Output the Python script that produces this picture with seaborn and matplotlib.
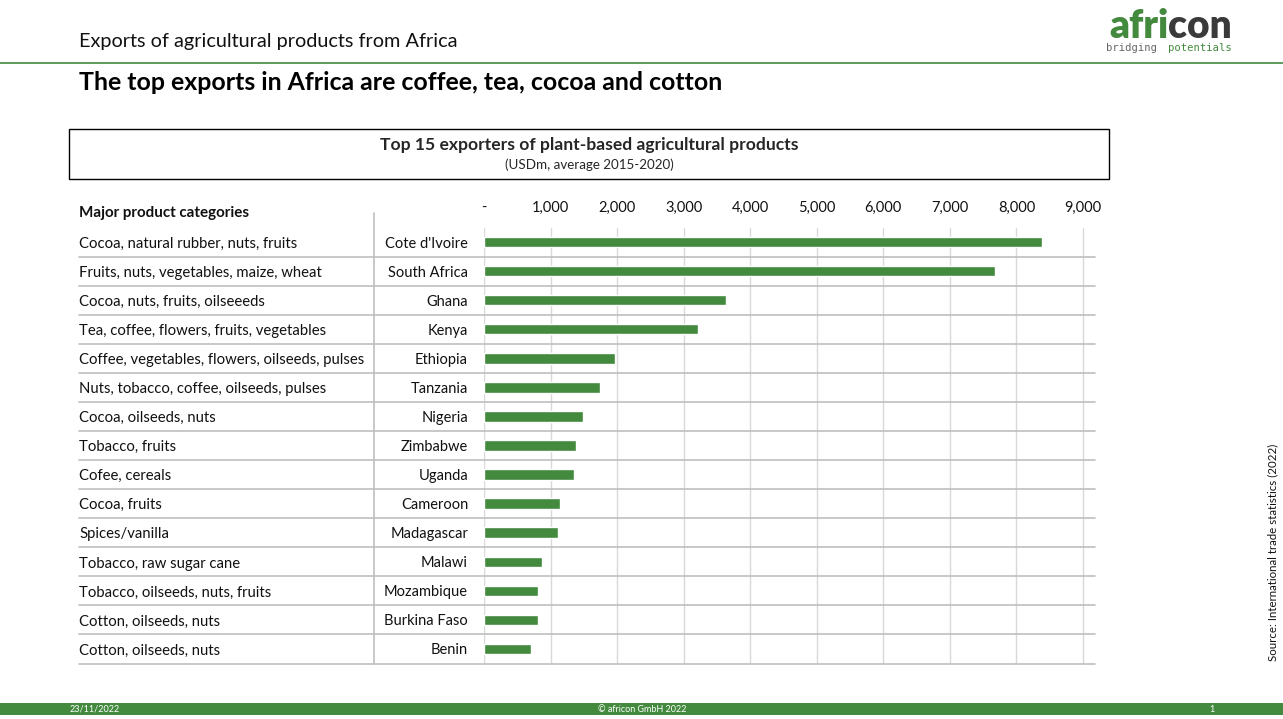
import numpy as np
import pandas as pd
import matplotlib
matplotlib.use('Agg')
import matplotlib.pyplot as plt
import seaborn as sns
from matplotlib.lines import Line2D
from matplotlib.patches import Rectangle

countries = ["Cote d'Ivoire", 'South Africa', 'Ghana', 'Kenya', 'Ethiopia', 'Tanzania',
             'Nigeria', 'Zimbabwe', 'Uganda', 'Cameroon', 'Madagascar', 'Malawi',
             'Mozambique', 'Burkina Faso', 'Benin']
exports = [8380, 7680, 3640, 3210, 1970, 1740, 1490, 1380, 1350, 1140, 1115, 870,
           815, 815, 705]
products = ['Cocoa, natural rubber, nuts, fruits',
            'Fruits, nuts, vegetables, maize, wheat',
            'Cocoa, nuts, fruits, oilseeeds',
            'Tea, coffee, flowers, fruits, vegetables',
            'Coffee, vegetables, flowers, oilseeds, pulses',
            'Nuts, tobacco, coffee, oilseeds, pulses',
            'Cocoa, oilseeds, nuts',
            'Tobacco, fruits',
            'Cofee, cereals',
            'Cocoa, fruits',
            'Spices/vanilla',
            'Tobacco, raw sugar cane',
            'Tobacco, oilseeds, nuts, fruits',
            'Cotton, oilseeds, nuts',
            'Cotton, oilseeds, nuts']
ticks = [0, 1000, 2000, 3000, 4000, 5000, 6000, 7000, 8000, 9000]
tick_labels = ['-', '1,000', '2,000', '3,000', '4,000', '5,000', '6,000', '7,000',
               '8,000', '9,000']

df = pd.DataFrame({'country': countries, 'value': exports, 'products': products})

green = '#438A3E'
W, H = 1283, 719

sns.set_style('white')
plt.rcParams['font.family'] = ['Lato', 'DejaVu Sans']

fig = plt.figure(figsize=(W / 100, H / 100), dpi=100)

def fx(px):
    return px / W

def fy(py):
    return 1 - py / H

# axes: x from 484 to 1095 px, rows from 227.5 to 663.5 px
ax = fig.add_axes([fx(484), fy(663.5), fx(1095 - 484), (663.5 - 227.5) / H])
sns.barplot(data=df, y='country', x='value', orient='h', color=green,
            width=0.36, saturation=1, ax=ax, zorder=3)
ax.set_xlim(0, 9000 * (1095 - 484) / (1083 - 484))
ax.set_ylim(len(countries) - 0.5, -0.5)
ax.set_xlabel('')
ax.set_ylabel('')
for s in ax.spines.values():
    s.set_visible(False)

ax.xaxis.tick_top()
ax.set_xticks(ticks)
ax.set_xticklabels(tick_labels, fontsize=10.5, color='#111111')
ax.tick_params(axis='x', length=0, pad=9)
ax.tick_params(axis='y', length=0, pad=11.5, labelsize=10.5, labelcolor='#111111')
for xv in ticks:
    ax.axvline(xv, color='#D9D9D9', lw=1, zorder=1)

# row separators and product category column
yt = ax.get_yaxis_transform()
x_left = (79 - 484) / (1095 - 484)
x_div = (374 - 484) / (1095 - 484)
for i in range(len(countries)):
    ax.plot([x_left, 1], [i + 0.5, i + 0.5], transform=yt, color='#BFBFBF',
            lw=1.2, clip_on=False, zorder=2)
    ax.text(x_left, i + 0.06, products[i], transform=yt, ha='left', va='center',
            fontsize=10.7, color='#111111')
ax.plot([x_div, x_div], [-0.5 - 15 / 29.07, len(countries) - 0.5], transform=yt,
        color='#BFBFBF', lw=1.2, clip_on=False)

fig.text(fx(79), fy(213), 'Major product categories', fontsize=10.9,
         fontweight='bold', ha='left', va='center', color='#111111')

# header
fig.text(fx(79), fy(42), 'Exports of agricultural products from Africa',
         fontsize=14.3, ha='left', va='center', color='#111111')
fig.add_artist(Line2D([0, 1], [fy(63), fy(63)], color=green, lw=1.2))
fig.text(fx(79), fy(82), 'The top exports in Africa are coffee, tea, cocoa and cotton',
         fontsize=17.9, fontweight='bold', ha='left', va='center', color='#000000')

# logo
con = fig.text(fx(1232), fy(27), 'con', fontsize=28, fontweight='heavy',
               color='#3A3A3A', ha='right', va='center')
renderer = fig.canvas.get_renderer()
con_left = con.get_window_extent(renderer).x0 / (W)
fig.text(con_left, fy(27), 'afri', fontsize=28, fontweight='heavy', color=green,
         ha='right', va='center')
fig.text(fx(1106), fy(48), 'bridging', fontsize=7.6, family='DejaVu Sans Mono',
         color='#666666', ha='left', va='center')
fig.text(fx(1232), fy(48), 'potentials', fontsize=7.6, family='DejaVu Sans Mono',
         color=green, ha='right', va='center')

# chart title box
fig.add_artist(Rectangle((fx(69), fy(179)), fx(1109 - 69), (179 - 129) / H,
                         fill=False, edgecolor='#000000', lw=1))
fig.text(fx(589), fy(145), 'Top 15 exporters of plant-based agricultural products',
         fontsize=12.6, fontweight='bold', ha='center', va='center')
fig.text(fx(589), fy(165), '(USDm, average 2015-2020)', fontsize=9.6,
         ha='center', va='center')

# source
fig.text(fx(1273), fy(552), 'Source: International trade statistics (2022)',
         fontsize=8.3, rotation=90, ha='center', va='center', color='#111111')

# footer
fig.add_artist(Rectangle((0, fy(715)), 1, 12 / H, color=green, lw=0))
fig.text(fx(70), fy(709), '23/11/2022', fontsize=6.5, color='white', ha='left',
         va='center')
fig.text(fx(642), fy(709), '\u00a9 africon GmbH 2022', fontsize=6.5, color='white',
         ha='center', va='center')
fig.text(fx(1212), fy(709), '1', fontsize=6.5, color='white', ha='center',
         va='center')

fig.savefig('out.png', dpi=100)
